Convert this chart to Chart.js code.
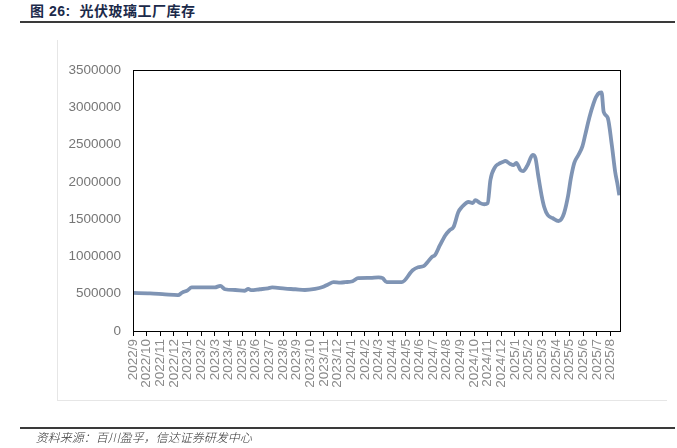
<!DOCTYPE html>
<html>
<head>
<meta charset="utf-8">
<script src="https://cdn.jsdelivr.net/npm/chart.js@4/dist/chart.umd.min.js"></script>
<style>
  body { margin: 0; background: #fff; }
  #wrap { position: relative; width: 677px; height: 448px; overflow: hidden; }
  #chart { position: absolute; left: 0; top: 0; }
  .title { position: absolute; left: 30px; top: 0px; font: bold 14px "Liberation Sans", "Noto Sans CJK SC", sans-serif; color: #1b2a4a; letter-spacing: 0.5px; }
  .rule { position: absolute; left: 20px; width: 655px; height: 1.5px; background: #3a3a3a; }
  .note { position: absolute; left: 35px; top: 428px; font: 12px "Noto Sans CJK SC", sans-serif; font-weight: 300; color: #333; transform: skewX(-14deg); transform-origin: left bottom; }
  .frame { position: absolute; background: #e6e6e6; }
</style>
</head>
<body>
<div id="wrap">
  <div class="title">图 26:&nbsp; 光伏玻璃工厂库存</div>
  <div class="rule" style="top:21px"></div>
  <div class="frame" style="left:57px; top:40px; width:1px; height:360px"></div>
  <div class="frame" style="left:57px; top:400px; width:610px; height:1px"></div>
  <canvas id="chart" width="677" height="448"></canvas>
  <div class="rule" style="top:427px"></div>
  <div class="note">资料来源：百川盈孚，信达证券研发中心</div>
</div>
<script>
// month tick labels
const months = [
    '2022/9', '2022/10', '2022/11', '2022/12',
    '2023/1', '2023/2', '2023/3', '2023/4', '2023/5', '2023/6', '2023/7', '2023/8', '2023/9', '2023/10', '2023/11', '2023/12',
    '2024/1', '2024/2', '2024/3', '2024/4', '2024/5', '2024/6', '2024/7', '2024/8', '2024/9', '2024/10', '2024/11', '2024/12',
    '2025/1', '2025/2', '2025/3', '2025/4', '2025/5', '2025/6', '2025/7', '2025/8'
];

// time of each reading, in months after 2022/9
const readingMonth = [
    0, 1.25, 2.35, 3.3, 3.6, 4.0, 4.3, 6.0, 6.4, 6.75, 7.5, 8.2, 8.45, 8.65, 9.3, 9.9,
    10.2, 11.15, 11.9, 12.6, 13.35, 13.9, 14.3, 14.7, 15.2, 15.55, 16.1, 16.5, 17.4, 18.0, 18.3, 18.6,
    19.2, 19.7, 20.5, 20.9, 21.3, 21.6, 21.9, 22.15, 22.5, 22.9, 23.2, 23.5, 23.85, 24.1, 24.6, 24.9,
    25.1, 25.45, 25.75, 26.0, 26.2, 26.55, 26.8, 27.1, 27.3, 27.65, 27.9, 28.1, 28.4, 28.6, 28.9, 29.3,
    29.5, 29.7, 29.95, 30.15, 30.4, 30.75, 31.2, 31.4, 31.6, 31.9, 32.1, 32.35, 32.65, 32.95, 33.15, 33.45,
    33.75, 33.95, 34.2, 34.35, 34.5, 34.8, 35.1, 35.35, 35.5, 35.65
];

// factory inventory
const inventory = [
    510000, 505000, 490000, 480000, 515000, 545000, 585000, 585000, 605000, 560000, 550000, 540000, 565000, 548000, 560000, 572000,
    585000, 568000, 560000, 550000, 565000, 590000, 625000, 655000, 650000, 655000, 668000, 708000, 712000, 720000, 708000, 655000,
    655000, 655000, 815000, 855000, 870000, 925000, 990000, 1020000, 1150000, 1285000, 1350000, 1395000, 1595000, 1660000, 1730000, 1715000,
    1755000, 1715000, 1700000, 1715000, 2025000, 2200000, 2240000, 2265000, 2280000, 2240000, 2225000, 2255000, 2160000, 2145000, 2215000, 2360000,
    2320000, 2090000, 1820000, 1660000, 1555000, 1515000, 1475000, 1500000, 1580000, 1820000, 2050000, 2255000, 2360000, 2480000, 2630000, 2860000,
    3045000, 3140000, 3195000, 3200000, 2940000, 2860000, 2495000, 2130000, 1985000, 1820000
];

const points = readingMonth.map((m, i) => ({ x: m, y: inventory[i] }));

// box around the plot area
const boxPlugin = {
    id: 'box',
    afterDraw(chart) {
        const a = chart.chartArea, c = chart.ctx;
        c.save();
        c.strokeStyle = '#000';
        c.lineWidth = 1;
        c.strokeRect(Math.round(a.left) + 0.5, Math.round(a.top) + 0.5, Math.round(a.right - a.left), Math.round(a.bottom - a.top));
        c.restore();
    }
};

new Chart(document.getElementById('chart').getContext('2d'), {
    type: 'line',
    data: {
        datasets: [{
            data: points,
            borderColor: '#7f94b4',
            borderWidth: 3.8,
            pointRadius: 0,
            cubicInterpolationMode: 'monotone',
            fill: false
        }]
    },
    options: {
        responsive: false,
        animation: false,
        layout: { padding: { left: 0, top: 70, right: 57, bottom: 0 } },
        plugins: { legend: { display: false }, tooltip: { enabled: false } },
        scales: {
            x: {
                type: 'linear',
                min: 0,
                max: 35.7,
                afterBuildTicks(scale) {
                    scale.ticks = months.map((_, i) => ({ value: i }));
                },
                afterFit(scale) { scale.height = 117; },
                grid: { display: true, drawOnChartArea: false, drawTicks: true, tickLength: 5, color: '#000' },
                border: { display: true, color: '#000', width: 1 },
                ticks: {
                    autoSkip: false,
                    minRotation: 90,
                    maxRotation: 90,
                    padding: 3,
                    color: '#8a8a8a',
                    font: { family: 'Liberation Sans', size: 13.5 },
                    callback: (v) => months[v]
                }
            },
            y: {
                min: 0,
                max: 3500000,
                afterFit(scale) { scale.width = 133; },
                grid: { display: false, drawTicks: false },
                border: { display: true, color: '#000', width: 1 },
                ticks: {
                    stepSize: 500000,
                    padding: 12,
                    color: '#767676',
                    font: { family: 'Liberation Sans', size: 13.5 },
                    callback: (v) => String(v)
                }
            }
        }
    },
    plugins: [boxPlugin]
});
</script>
</body>
</html>
